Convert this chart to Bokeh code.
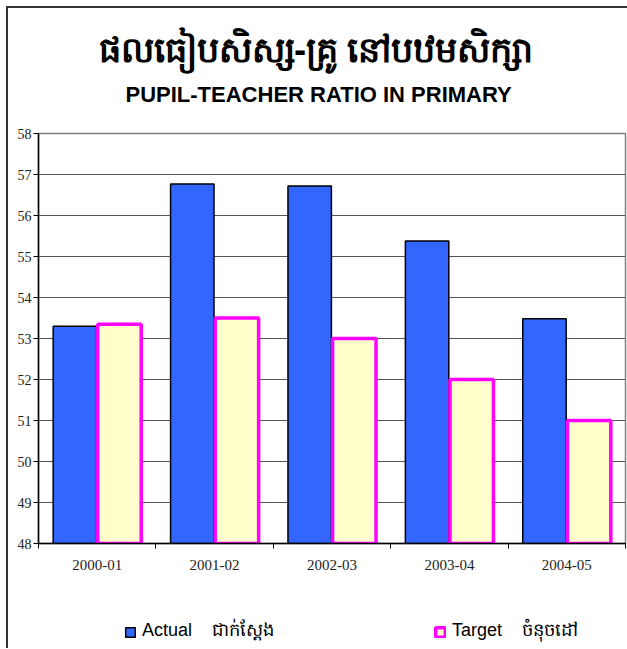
from bokeh.plotting import figure
from bokeh.layouts import column
from bokeh.models import (Range1d, FixedTicker, Title, Legend, LegendItem, ColumnDataSource)
from bokeh.embed import file_html
from bokeh.resources import INLINE

# ---- data ----
years = ["2000-01", "2001-02", "2002-03", "2003-04", "2004-05"]
actual = [53.3, 56.77, 56.72, 55.38, 53.48]
target = [53.35, 53.5, 53.0, 52.0, 51.0]
y_ticks = [48, 49, 50, 51, 52, 53, 54, 55, 56, 57, 58]
title_km = "ផលធៀបសិស្ស-គ្រូ  នៅបឋមសិក្សា"
title_en = "PUPIL-TEACHER RATIO IN PRIMARY"
label_actual = "Actual    ជាក់ស្តែង"
label_target = "Target    ចំនុចដៅ"

idx = list(range(len(years)))
src = ColumnDataSource(dict(
    xa=[i + 0.5 - 0.19 for i in idx],
    xt=[i + 0.5 + 0.19 for i in idx],
    actual=actual, target=target,
))

W, H = 619, 587
p = figure(width=W, height=H, output_backend="svg", toolbar_location=None,
           x_range=Range1d(0, len(years)), y_range=Range1d(48, 58),
           min_border_left=30, min_border_right=2, min_border_top=125,
           min_border_bottom=52)
p.background_fill_color = "white"
p.border_fill_color = "white"
p.outline_line_color = "#808080"
p.outline_line_width = 1.5

ra = p.vbar(x="xa", top="actual", bottom=48, width=0.37, source=src,
            fill_color="#3366FF", line_color="black", line_width=1.5)
rt = p.vbar(x="xt", top="target", bottom=48, width=0.37, source=src,
            fill_color="#FFFFCC", line_color="#FF00FF", line_width=3.5)

# axes
p.xgrid.visible = False
p.ygrid.grid_line_color = "#555555"
p.ygrid.grid_line_width = 1
p.ygrid.ticker = FixedTicker(ticks=y_ticks)

p.yaxis.ticker = FixedTicker(ticks=y_ticks)
p.yaxis.axis_line_color = "black"
p.yaxis.axis_line_width = 1.5
p.yaxis.major_tick_in = 0
p.yaxis.major_tick_out = 5
p.yaxis.major_tick_line_color = "black"
p.yaxis.minor_tick_line_color = None
p.yaxis.major_label_text_font = "Liberation Serif"
p.yaxis.major_label_text_font_size = "14px"
p.yaxis.major_label_text_color = "#222222"
p.yaxis.major_label_standoff = 2

centers = [i + 0.5 for i in idx]
p.xaxis.ticker = FixedTicker(ticks=centers, minor_ticks=list(range(len(years) + 1)))
p.xaxis.major_label_overrides = {c: y for c, y in zip(centers, years)}
p.xaxis.axis_line_color = "black"
p.xaxis.axis_line_width = 1.5
p.xaxis.major_tick_line_color = None
p.xaxis.minor_tick_in = 0
p.xaxis.minor_tick_out = 5
p.xaxis.minor_tick_line_color = "black"
p.xaxis.major_label_text_font = "Liberation Serif"
p.xaxis.major_label_text_font_size = "15px"
p.xaxis.major_label_text_color = "#222222"
p.xaxis.major_label_standoff = 10

# titles (first added is closest to the plot); a thin spacer sits next to the frame
p.add_layout(Title(text=" ", text_font_size="1px", standoff=24), "above")
p.add_layout(Title(text=title_en, align="left", text_font="Liberation Sans",
                   text_font_size="22px", text_font_style="bold",
                   text_color="black", standoff=0, offset=87), "above")
p.add_layout(Title(text=title_km, align="left", text_font="Noto Sans",
                   text_font_size="35px", text_font_style="bold",
                   text_color="black", standoff=16, offset=60), "above")

# legend strip below the chart; its swatch renderers are hidden, only the key shows
q = figure(width=W, height=53, output_backend="svg", toolbar_location=None,
           x_range=Range1d(0, 1), y_range=Range1d(0, 1),
           x_axis_location=None, y_axis_location=None,
           min_border=0)
q.outline_line_color = None
q.xgrid.visible = False
q.ygrid.visible = False
swatch = ColumnDataSource(dict(x=[3.0], top=[3.0], bottom=[2.0]))
la = q.vbar(x="x", top="top", bottom="bottom", width=0.37, source=swatch,
            fill_color="#3366FF", line_color="black", line_width=1.5)
lt = q.vbar(x="x", top="top", bottom="bottom", width=0.37, source=swatch,
            fill_color="#FFFFCC", line_color="#FF00FF", line_width=3.5)
la.visible = False
lt.visible = False
legend = Legend(items=[LegendItem(label=label_actual, renderers=[la]),
                       LegendItem(label=label_target, renderers=[lt])],
                orientation="horizontal", location=(86, 3),
                spacing=160, padding=0, margin=0,
                glyph_width=12, glyph_height=12, label_standoff=6,
                label_text_font="Liberation Sans", label_text_font_size="18px",
                label_text_color="black", inactive_fill_alpha=0,
                border_line_color=None, background_fill_alpha=0)
q.add_layout(legend, "center")

layout = column(p, q, spacing=0, margin=(6, 0, 0, 6))
layout.styles = {"border-left": "2px solid #333", "border-top": "2px solid #333"}

open("out.html", "w").write(file_html(layout, INLINE))
